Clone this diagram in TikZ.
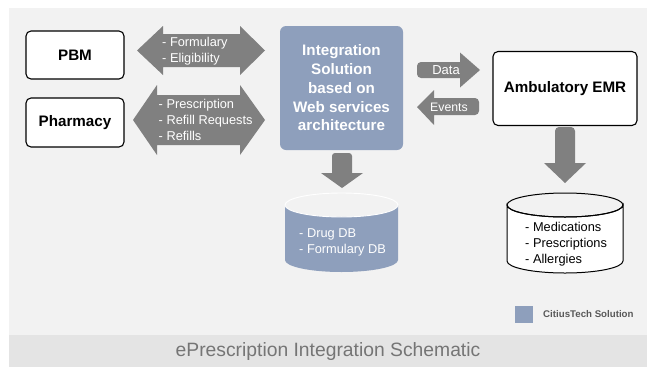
\documentclass[tikz,border=0pt]{standalone}
\usepackage{fontspec}
\setmainfont{Liberation Sans}
\definecolor{panelgray}{HTML}{F2F2F2}
\definecolor{bandgray}{HTML}{E4E4E4}
\definecolor{arrowgray}{HTML}{808080}
\definecolor{citiusblue}{HTML}{8E9FBC}
\definecolor{titlegray}{HTML}{757575}
\begin{document}
\begin{tikzpicture}[x=1pt,y=-1pt,
    whitebox/.style={draw=black,line width=1.1pt,fill=white,rounded corners=5pt,
        font=\fontsize{15.2}{17}\selectfont\bfseries},
    bluebox/.style={fill=citiusblue,rounded corners=6pt,text=white,align=center,
        font=\fontsize{15.2}{18.75}\selectfont\bfseries},
    arrowtext/.style={text=white,align=left,inner sep=0pt,
        font=\fontsize{12.8}{16}\selectfont},
    dbtext/.style={align=left,inner sep=0pt,font=\fontsize{12.8}{16}\selectfont}]

    \useasboundingbox (0,0) rectangle (647,367);
    \fill[panelgray] (9,8) rectangle (647,335);
    \fill[bandgray] (9,335) rectangle (647,367);

    % partners on the left
    \node[whitebox,minimum width=98pt,minimum height=48pt] (pbm) at (75,55) {PBM};
    \node[whitebox,minimum width=98pt,minimum height=49pt] (pharmacy) at (75,122.5) {Pharmacy};

    % central solution
    \node[bluebox,minimum width=123pt,minimum height=124pt] (integ) at (341.5,88)
        {Integration\\Solution\\based on\\Web services\\architecture};

    \node[whitebox,minimum width=144pt,minimum height=74pt] (emr) at (565,88.5) {Ambulatory EMR};

    % block arrows
    \fill[arrowgray] (137,50.5) -- (163,26) -- (163,34) -- (240,34) -- (240,26)
        -- (265,50.5) -- (240,75) -- (240,67) -- (163,67) -- (163,75) -- cycle;
    \node[arrowtext,anchor=west] (pbmmsg) at (162,51) {- Formulary\\- Eligibility};

    \fill[arrowgray] (133,120) -- (157,85) -- (157,95) -- (240,95) -- (240,85)
        -- (265,120) -- (240,155) -- (240,145) -- (157,145) -- (157,155) -- cycle;
    \node[arrowtext,anchor=west] (rxmsg) at (158.5,119.5) {- Prescription\\- Refill Requests\\- Refills};

    \fill[arrowgray] (460,62) -- (460,52.5) -- (480,70) -- (460,87.5) -- (460,78)
        [rounded corners=4pt] -- (417,78) -- (417,62) [sharp corners] -- cycle;
    \node[arrowtext,font=\fontsize{13}{15}\selectfont] (datamsg) at (446,70) {Data};

    \fill[arrowgray] (434,98) -- (434,90) -- (417,107) -- (434,125) -- (434,115)
        [rounded corners=4pt] -- (479,115) -- (479,98) [sharp corners] -- cycle;
    \node[arrowtext,font=\fontsize{12.3}{15}\selectfont] (eventsmsg) at (449,107.5) {Events};

    \fill[arrowgray] (332,173) [rounded corners=3pt] -- (332,153) -- (352,153)
        [sharp corners] -- (352,173) -- (363,173) -- (342,188) -- (321,173) -- cycle;
    \fill[arrowgray] (555,163) [rounded corners=4pt] -- (555,127) -- (575,127)
        [sharp corners] -- (575,163) -- (586,163) -- (565,183) -- (544,163) -- cycle;

    % databases
    \fill[citiusblue] (285,205) -- (285,260) arc (180:0:56.5 and 12) -- (398,205)
        arc (0:180:56.5 and 12) -- cycle;
    \draw[white,line width=0.9pt] (341.5,205) ellipse (56.5 and 12);
    \node[dbtext,text=white,anchor=west] (drugdb) at (299,242.5) {- Drug DB\\- Formulary DB};

    \filldraw[fill=white,draw=black,line width=1pt] (507,205) -- (507,261) arc (180:0:58 and 12)
        -- (623,205) arc (0:180:58 and 12) -- cycle;
    \draw[line width=1pt] (565,205) ellipse (58 and 12);
    \node[dbtext,anchor=west] (emrdb) at (525,244) {- Medications\\- Prescriptions\\- Allergies};

    % legend and title
    \fill[citiusblue] (515,306) rectangle (533,323);
    \node[anchor=west,inner sep=0pt,text=black!65,font=\fontsize{9.7}{11}\selectfont\bfseries]
        (legend) at (543,314.5) {CitiusTech Solution};
    \node[text=titlegray,font=\fontsize{19.3}{23}\selectfont] (title) at (328,352)
        {ePrescription Integration Schematic};
\end{tikzpicture}
\end{document}
